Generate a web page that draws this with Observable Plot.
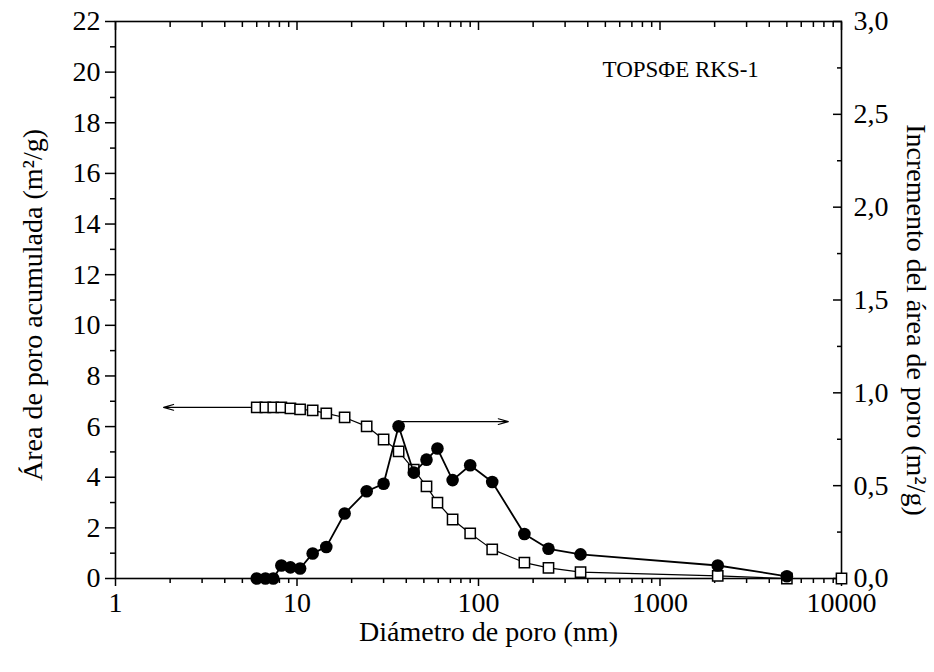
<!DOCTYPE html>
<html>
<head>
<meta charset="utf-8">
<script src="https://cdn.jsdelivr.net/npm/d3@7"></script>
<script src="https://cdn.jsdelivr.net/npm/@observablehq/plot@0.6"></script>
<style>
  html, body { margin: 0; padding: 0; background: white; }
  #chart { width: 934px; height: 672px; }
</style>
</head>
<body>
<div id="chart"></div>
<script>
// ---- data ----
const diam = [6.0, 6.7, 7.4, 8.2, 9.2, 10.4, 12.2, 14.5, 18.3, 24.2, 30, 36.3, 44, 51.7, 59.4, 72, 90, 119, 179, 243, 365, 2080, 5000, 10000];
const cumArea = [6.76, 6.76, 6.76, 6.76, 6.72, 6.68, 6.64, 6.52, 6.36, 6.01, 5.49, 5.02, 4.3, 3.64, 3.0, 2.33, 1.78, 1.15, 0.63, 0.42, 0.25, 0.1, 0.0, 0.0];
const incArea = [0.0, 0.0, 0.0, 0.07, 0.06, 0.054, 0.135, 0.17, 0.35, 0.47, 0.51, 0.82, 0.57, 0.64, 0.70, 0.53, 0.61, 0.52, 0.24, 0.16, 0.13, 0.07, 0.012, null];

const xTicks = [1, 10, 100, 1000, 10000];
const leftTicks = [0, 2, 4, 6, 8, 10, 12, 14, 16, 18, 20, 22];
const leftMinor = [1, 3, 5, 7, 9, 11, 13, 15, 17, 19, 21];
const rightTicks = [0, 0.5, 1.0, 1.5, 2.0, 2.5, 3.0];
const rightMinor = [0.25, 0.75, 1.25, 1.75, 2.25, 2.75];

// arrows
const arrowLeft = {x1: 5.55, y: 6.76, x2: 1.84};          // on cumulative axis
const arrowRight = {x1: 38, y: 0.845, x2: 146};           // on increment axis

const annotation = {x: 1300, y: 20.1, label: "TOPSΦE RKS-1"};

const xTitle = "Diámetro de poro (nm)";
const yLeftTitle = "Área de poro acumulada (m²/g)";
const yRightTitle = "Incremento del área de poro (m²/g)";

// ---- build ----
const RATIO = 22 / 3; // right axis 3.0 aligns with left 22
const xMinor = [];
for (const dec of [1, 10, 100, 1000]) for (let k = 2; k <= 9; k++) xMinor.push(k * dec);

const sq = diam.map((d, i) => ({d, v: cumArea[i]}));
const ci = diam.map((d, i) => ({d, v: incArea[i]})).filter(p => p.v != null).map(p => ({d: p.d, v: p.v * RATIO}));
const arrows = [
  {x1: arrowLeft.x1, y1: arrowLeft.y, x2: arrowLeft.x2, y2: arrowLeft.y},
  {x1: arrowRight.x1, y1: arrowRight.y * RATIO, x2: arrowRight.x2, y2: arrowRight.y * RATIO}
];
const comma = v => v.toFixed(1).replace(".", ",");
const font = "'Liberation Serif', 'Times New Roman', serif";
const FS = 28;

const chart = Plot.plot({
  width: 934,
  height: 672,
  marginLeft: 115,
  marginRight: 93,
  marginTop: 21,
  marginBottom: 94,
  style: {fontFamily: font, fontSize: FS + "px", background: "white", color: "black", overflow: "visible"},
  x: {type: "log", domain: [1, 10000], axis: null},
  y: {domain: [0, 22], axis: null},
  marks: [
    Plot.frame({stroke: "black", strokeWidth: 1.6}),
    // left axis
    Plot.axisY(leftTicks, {anchor: "left", tickSize: 10, tickPadding: 5, strokeWidth: 1.5, tickFormat: d => String(d), fontSize: FS, label: null}),
    Plot.axisY(leftMinor, {anchor: "left", tickSize: 5, strokeWidth: 1.5, tickFormat: () => "", label: null}),
    // right axis (inward ticks)
    Plot.axisY(rightTicks.map(v => v * RATIO), {anchor: "right", tickSize: -9, tickPadding: 21, strokeWidth: 1.5, tickFormat: d => comma(d / RATIO), fontSize: FS, label: null}),
    Plot.axisY(rightMinor.map(v => v * RATIO), {anchor: "right", tickSize: -5, strokeWidth: 1.5, tickFormat: () => "", label: null}),
    // bottom axis
    Plot.axisX(xTicks, {anchor: "bottom", tickSize: 8, tickPadding: 6, strokeWidth: 1.5, tickFormat: d => String(d), fontSize: FS, label: null}),
    Plot.axisX(xMinor, {anchor: "bottom", tickSize: 5, strokeWidth: 1.5, tickFormat: () => "", label: null}),
    // top axis (inward ticks)
    Plot.axisX(xTicks, {anchor: "top", tickSize: -8, strokeWidth: 1.5, tickFormat: () => "", label: null}),
    Plot.axisX(xMinor, {anchor: "top", tickSize: -5, strokeWidth: 1.5, tickFormat: () => "", label: null}),
    // arrows
    Plot.arrow(arrows, {x1: "x1", y1: "y1", x2: "x2", y2: "y2", stroke: "black", strokeWidth: 1.2, headLength: 13, headAngle: 32}),
    // cumulative (squares)
    Plot.line(sq, {x: "d", y: "v", stroke: "black", strokeWidth: 1.2}),
    Plot.dot(sq, {x: "d", y: "v", symbol: "square", r: 5.8, fill: "white", stroke: "black", strokeWidth: 1.5}),
    // increment (circles)
    Plot.line(ci, {x: "d", y: "v", stroke: "black", strokeWidth: 1.8}),
    Plot.dot(ci, {x: "d", y: "v", r: 6.3, fill: "black", stroke: "none"}),
    // annotation
    Plot.text([annotation], {x: "x", y: "y", text: "label", fontSize: 23, textAnchor: "middle"}),
    // axis titles
    Plot.text([xTitle], {frameAnchor: "bottom", dy: 54, dx: 10, fontSize: FS, textAnchor: "middle", lineAnchor: "middle"}),
    Plot.text([yLeftTitle], {frameAnchor: "left", dx: -82, dy: 5, rotate: -90, fontSize: FS, textAnchor: "middle", lineAnchor: "middle"}),
    Plot.text([yRightTitle], {frameAnchor: "right", dx: 74, dy: 20, rotate: 90, fontSize: FS, textAnchor: "middle", lineAnchor: "middle"})
  ]
});
document.getElementById("chart").appendChild(chart);
</script>
</body>
</html>
